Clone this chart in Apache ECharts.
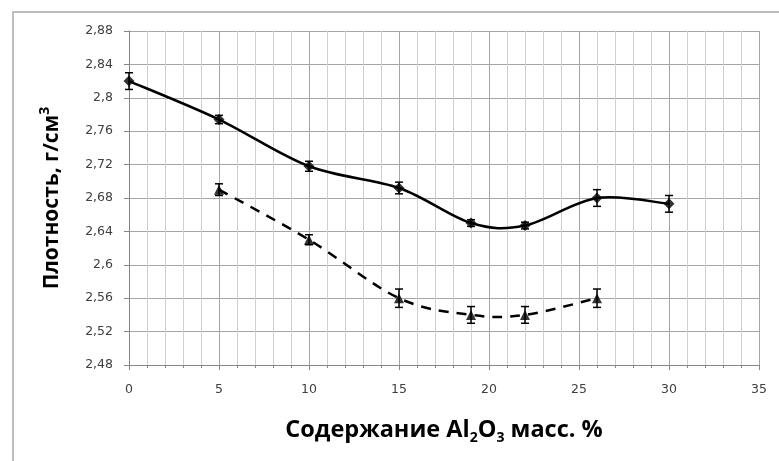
<!DOCTYPE html>
<html>
<head>
<meta charset="utf-8">
<script src="https://cdn.jsdelivr.net/npm/echarts@6/dist/echarts.min.js"></script>
<style>
html,body{margin:0;padding:0;background:#fff;}
#chart{width:779px;height:461px;}
</style>
</head>
<body>
<div id="chart"></div>
<script>
// Series 1 (solid line, diamonds)
const xValues1 = [0, 5, 10, 15, 19, 22, 26, 30];
const density1 = [2.82, 2.774, 2.718, 2.692, 2.65, 2.647, 2.68, 2.673];
const err1 = [0.01, 0.005, 0.006, 0.007, 0.004, 0.004, 0.01, 0.01];
// Series 2 (dashed line, triangles)
const xValues2 = [5, 10, 15, 19, 22, 26];
const density2 = [2.69, 2.63, 2.56, 2.54, 2.54, 2.56];
const err2 = [0.007, 0.006, 0.011, 0.01, 0.01, 0.011];
// Axis ticks
const xTicks = [0, 5, 10, 15, 20, 25, 30, 35];
const yTicks = [2.48, 2.52, 2.56, 2.6, 2.64, 2.68, 2.72, 2.76, 2.8, 2.84, 2.88];
const yTickLabels = ['2,48', '2,52', '2,56', '2,6', '2,64', '2,68', '2,72', '2,76', '2,8', '2,84', '2,88'];

const line1 = xValues1.map((x, i) => [x, density1[i]]);
const line2 = xValues2.map((x, i) => [x, density2[i]]);
const bars1 = xValues1.map((x, i) => [x, density1[i] - err1[i], density1[i] + err1[i]]);
const bars2 = xValues2.map((x, i) => [x, density2[i] - err2[i], density2[i] + err2[i]]);

function renderErr(params, api) {
  const x = api.value(0), lo = api.value(1), hi = api.value(2);
  const p1 = api.coord([x, lo]), p2 = api.coord([x, hi]);
  const hw = 4;
  const st = {stroke: '#000', lineWidth: 1.5};
  return {type: 'group', children: [
    {type: 'line', shape: {x1: p1[0], y1: p1[1], x2: p2[0], y2: p2[1]}, style: st},
    {type: 'line', shape: {x1: p1[0] - hw, y1: p1[1], x2: p1[0] + hw, y2: p1[1]}, style: st},
    {type: 'line', shape: {x1: p2[0] - hw, y1: p2[1], x2: p2[0] + hw, y2: p2[1]}, style: st}
  ]};
}

// Excel-style smoothed curve (Catmull-Rom bezier through the points, in pixel space)
function makeCurve(points, dash) {
  return function (params, api) {
    if (params.dataIndex !== 0) return null;
    const p = points.map(d => api.coord(d));
    const n = p.length;
    const get = i => p[Math.max(0, Math.min(n - 1, i))];
    let d = 'M' + p[0][0] + ' ' + p[0][1];
    for (let i = 0; i < n - 1; i++) {
      const p0 = get(i - 1), p1 = p[i], p2 = p[i + 1], p3 = get(i + 2);
      const c1x = p1[0] + (p2[0] - p0[0]) / 6, c1y = p1[1] + (p2[1] - p0[1]) / 6;
      const c2x = p2[0] - (p3[0] - p1[0]) / 6, c2y = p2[1] - (p3[1] - p1[1]) / 6;
      d += ' C' + c1x + ' ' + c1y + ' ' + c2x + ' ' + c2y + ' ' + p2[0] + ' ' + p2[1];
    }
    const style = {fill: 'none', stroke: '#000', lineWidth: 2.5};
    if (dash) style.lineDash = dash;
    return {type: 'path', shape: {pathData: d}, style: style};
  };
}

const labelFont = {fontFamily: 'DejaVu Sans', fontSize: 12.5, color: '#404040'};
const chart = echarts.init(document.getElementById('chart'), null, {renderer: 'canvas'});
chart.setOption({
  animation: false,
  backgroundColor: '#fff',
  graphic: [
    {type: 'rect', shape: {x: 13, y: 12, width: 800, height: 500}, style: {fill: 'none', stroke: '#bdbdbd', lineWidth: 2}, z: -10}
  ],
  grid: {left: 129, right: 20, top: 31, bottom: 96, containLabel: false},
  xAxis: {
    type: 'value', min: 0, max: 35, interval: 5,
    axisLine: {show: true, lineStyle: {color: '#868686', width: 1}},
    axisTick: {show: true, length: 5, lineStyle: {color: '#868686'}},
    minorTick: {show: true, splitNumber: 5, length: 3, lineStyle: {color: '#868686'}},
    splitLine: {show: true, lineStyle: {color: '#a6a6a6', width: 1}},
    minorSplitLine: {show: true, lineStyle: {color: '#d0d0d0', width: 1}},
    axisLabel: Object.assign({margin: 18, formatter: v => String(xTicks[xTicks.indexOf(v)])}, labelFont),
    name: '{a|Содержание Al}{s|2}{a|O}{s|3}{a| масс. %}',
    nameLocation: 'middle', nameGap: 50,
    nameTextStyle: {
      rich: {
        a: {fontFamily: 'Open Sans', fontWeight: 'bold', fontSize: 23.5, color: '#000', lineHeight: 30},
        s: {fontFamily: 'Open Sans', fontWeight: 'bold', fontSize: 14, color: '#000', lineHeight: 15, verticalAlign: 'bottom'}
      }
    }
  },
  yAxis: {
    type: 'value', min: 2.48, max: 2.88, interval: 0.04,
    axisLine: {show: true, lineStyle: {color: '#868686', width: 1}},
    axisTick: {show: true, length: 5, lineStyle: {color: '#868686'}},
    splitLine: {show: true, lineStyle: {color: '#a6a6a6', width: 1}},
    axisLabel: Object.assign({margin: 16, formatter: v => {
      const i = yTicks.findIndex(t => Math.abs(t - v) < 1e-6);
      return i >= 0 ? yTickLabels[i] : '';
    }}, labelFont),
    name: '{a|Плотность, г/см}{p|3}',
    nameLocation: 'middle', nameGap: 63, nameRotate: 90,
    nameTextStyle: {
      rich: {
        a: {fontFamily: 'Open Sans', fontWeight: 'bold', fontSize: 21, color: '#000', lineHeight: 28},
        p: {fontFamily: 'Open Sans', fontWeight: 'bold', fontSize: 14, color: '#000', lineHeight: 15, verticalAlign: 'top'}
      }
    }
  },
  series: [
    {type: 'custom', data: line1, renderItem: makeCurve(line1, null), encode: {x: 0, y: 1}, z: 2},
    {type: 'custom', data: line2, renderItem: makeCurve(line2, [10, 8]), encode: {x: 0, y: 1}, z: 2},
    {type: 'scatter', data: line1, symbol: 'diamond', symbolSize: 11, itemStyle: {color: '#000'}, z: 3},
    {type: 'scatter', data: line2, symbol: 'triangle', symbolSize: 10, itemStyle: {color: '#000'}, z: 3},
    {type: 'custom', data: bars1, renderItem: renderErr, encode: {x: 0, y: [1, 2]}, z: 4},
    {type: 'custom', data: bars2, renderItem: renderErr, encode: {x: 0, y: [1, 2]}, z: 4}
  ]
});
</script>
</body>
</html>
